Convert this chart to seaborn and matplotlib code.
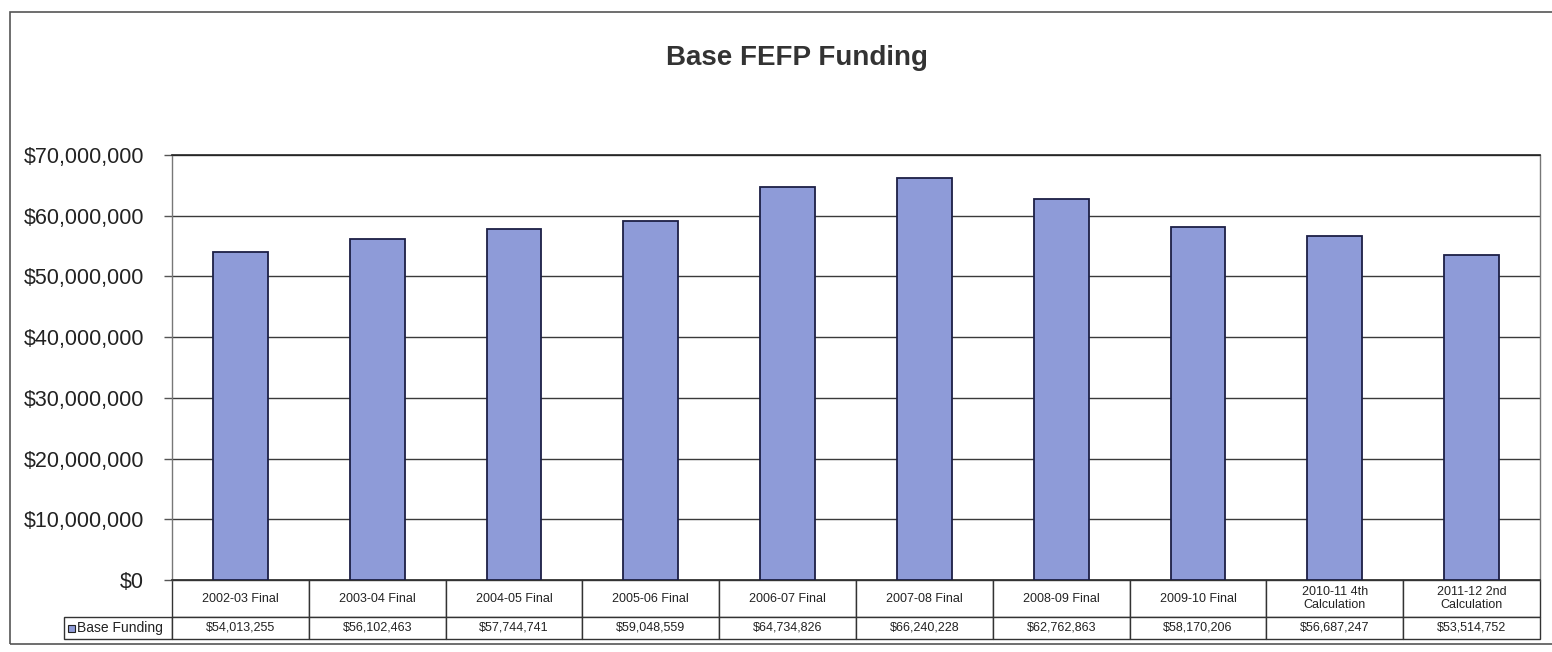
import matplotlib
matplotlib.use("Agg")
import matplotlib.pyplot as plt
from matplotlib.patches import Rectangle
from matplotlib.ticker import FuncFormatter, MultipleLocator
import seaborn as sns
import pandas as pd

categories = ["2002-03 Final", "2003-04 Final", "2004-05 Final", "2005-06 Final",
              "2006-07 Final", "2007-08 Final", "2008-09 Final", "2009-10 Final",
              "2010-11 4th\nCalculation", "2011-12 2nd\nCalculation"]
base_funding = [54013255, 56102463, 57744741, 59048559, 64734826,
                66240228, 62762863, 58170206, 56687247, 53514752]
series_name = "Base Funding"
title = "Base FEFP Funding"

bar_color = "#8E9BD8"
edge_color = "#1c1f45"
text_color = "#222222"

sns.set_theme(style="white")
plt.rcParams["font.family"] = ["Liberation Sans", "DejaVu Sans"]

df = pd.DataFrame({"category": categories, "value": base_funding})

W, H, DPI = 1552, 652, 100
AX_L, AX_R, AX_T, AX_B = 172, 1540, 155, 580
fig = plt.figure(figsize=(W / DPI, H / DPI), dpi=DPI)
ax = fig.add_axes([AX_L / W, 1 - AX_B / H, (AX_R - AX_L) / W, (AX_B - AX_T) / H])

sns.barplot(data=df, x="category", y="value", color=bar_color, width=0.4,
            edgecolor=edge_color, linewidth=1.3, saturation=1, ax=ax, zorder=3)

ax.set_ylim(0, 70_000_000)
ax.set_xlim(-0.5, len(categories) - 0.5)
ax.yaxis.set_major_locator(MultipleLocator(10_000_000))
ax.yaxis.set_major_formatter(FuncFormatter(lambda v, p: f"${v:,.0f}"))
ax.grid(axis="y", color="#3a3a3a", linewidth=1.0, zorder=0)
ax.set_axisbelow(True)
ax.set_xlabel("")
ax.set_ylabel("")
ax.set_xticks([])
ax.tick_params(axis="y", labelsize=15.5, labelcolor=text_color, left=True,
               length=6, width=1, color="#555555", pad=14)
for s in ["left", "right"]:
    ax.spines[s].set_color("#777777")
    ax.spines[s].set_linewidth(1.0)
ax.spines["top"].set_color("#222222")
ax.spines["top"].set_linewidth(1.2)
ax.spines["bottom"].set_color("#333333")

# data table
ax_h = AX_B - AX_T
ax_w = AX_R - AX_L
hdr_h = 37 / ax_h
val_h = 22 / ax_h
row_lbl_w = 108 / ax_w
value_text = [f"${v:,.0f}" for v in base_funding]
tbl = ax.table(cellText=[value_text], colLabels=categories, cellLoc="center",
               bbox=[0, -(hdr_h + val_h), 1, hdr_h + val_h])
tbl.auto_set_font_size(False)
lbl = tbl.add_cell(1, -1, width=row_lbl_w, height=val_h, text=series_name, loc="left")
lbl.PAD = 0.12
for (r, c), cell in tbl.get_celld().items():
    cell.set_edgecolor("#333333")
    cell.set_linewidth(1.0)
    cell.get_text().set_color(text_color)
    if c == -1:
        cell.get_text().set_fontsize(10)
    else:
        cell.set_width(0.1)
        if r == 0:
            cell.set_height(hdr_h)
            cell.get_text().set_fontsize(9)
            cell.get_text().set_linespacing(1.05)
        else:
            cell.set_height(val_h)
            cell.get_text().set_fontsize(9)

# legend key inside row label
key_y = AX_B + 37 + 11
fig.patches.append(Rectangle((68 / W, 1 - (key_y + 4) / H), 7 / W, 7 / H,
                             transform=fig.transFigure, facecolor=bar_color,
                             edgecolor="#222222", linewidth=0.8))

fig.text(797 / W, 1 - 58 / H, title, ha="center", va="center", fontsize=20,
         fontweight="bold", color="#333333")

# outer chart border
fig.patches.append(Rectangle((10 / W, 1 - 644 / H), (1600 - 10) / W, (644 - 12) / H,
                             transform=fig.transFigure, fill=False,
                             edgecolor="#555555", linewidth=1.2, clip_on=False))

fig.savefig("out.png", dpi=DPI)
